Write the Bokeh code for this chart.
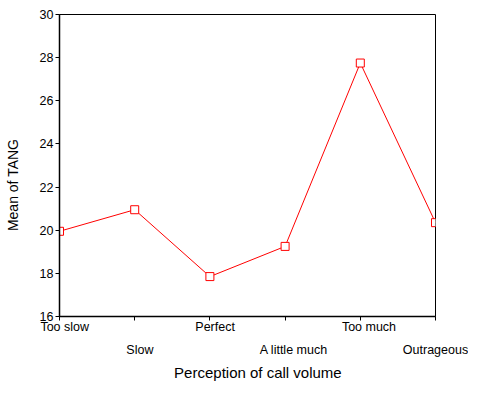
from bokeh.plotting import figure
from bokeh.models import Range1d, FixedTicker
from bokeh.embed import file_html
from bokeh.resources import INLINE

categories = ["Too slow", "Slow", "Perfect", "A little much", "Too much", "Outrageous"]
means = [19.95, 20.95, 17.85, 19.25, 27.75, 20.35]
y_ticks = [16, 18, 20, 22, 24, 26, 28, 30]

x = list(range(len(categories)))
NB = "\u00a0"
shift = [3, 3, 3, 5, 5, 0]
labels = {}
for i, c in enumerate(categories):
    lab = NB * shift[i] + c
    labels[i] = lab if i % 2 == 0 else "\n" + lab

p = figure(width=468, height=384, output_backend="svg", toolbar_location=None,
           x_range=Range1d(0, len(categories) - 1), y_range=Range1d(16, 30),
           min_border_left=59, min_border_top=14, min_border_right=33, min_border_bottom=68)
p.background_fill_color = "white"
p.border_fill_color = "white"
p.outline_line_color = "black"
p.outline_line_width = 1
p.xgrid.visible = False
p.ygrid.visible = False

p.line(x, means, line_color="#ff0000", line_width=1)
p.scatter(x, means, marker="square", size=8, line_color="#ff0000", fill_color="white", line_width=1)

for ax in (p.xaxis[0], p.yaxis[0]):
    ax.axis_line_color = "black"
    ax.axis_line_width = 1.5
    ax.major_tick_line_color = "black"
    ax.major_tick_in = 0
    ax.major_tick_out = 4
    ax.minor_tick_line_color = None
    ax.major_label_text_font = "Liberation Sans"
    ax.major_label_text_font_size = "12.5px"
    ax.major_label_text_color = "black"
    ax.axis_label_text_font = "Liberation Sans"
    ax.axis_label_text_font_style = "normal"
    ax.axis_label_text_color = "black"

p.xaxis.ticker = FixedTicker(ticks=x)
p.xaxis.major_label_overrides = labels
p.xaxis.major_label_text_line_height = 1.68
p.xaxis.major_label_standoff = -1
p.xaxis.axis_label = NB * 5 + "Perception of call volume"
p.xaxis.axis_label_text_font_size = "15px"
p.xaxis.axis_label_standoff = 4

p.yaxis.ticker = FixedTicker(ticks=y_ticks)
p.yaxis.major_label_standoff = 2
p.yaxis.axis_label = "Mean of TANG" + NB * 10
p.yaxis.axis_label_text_font_size = "14px"
p.yaxis.axis_label_standoff = 16

open("out.html", "w").write(file_html(p, INLINE))
